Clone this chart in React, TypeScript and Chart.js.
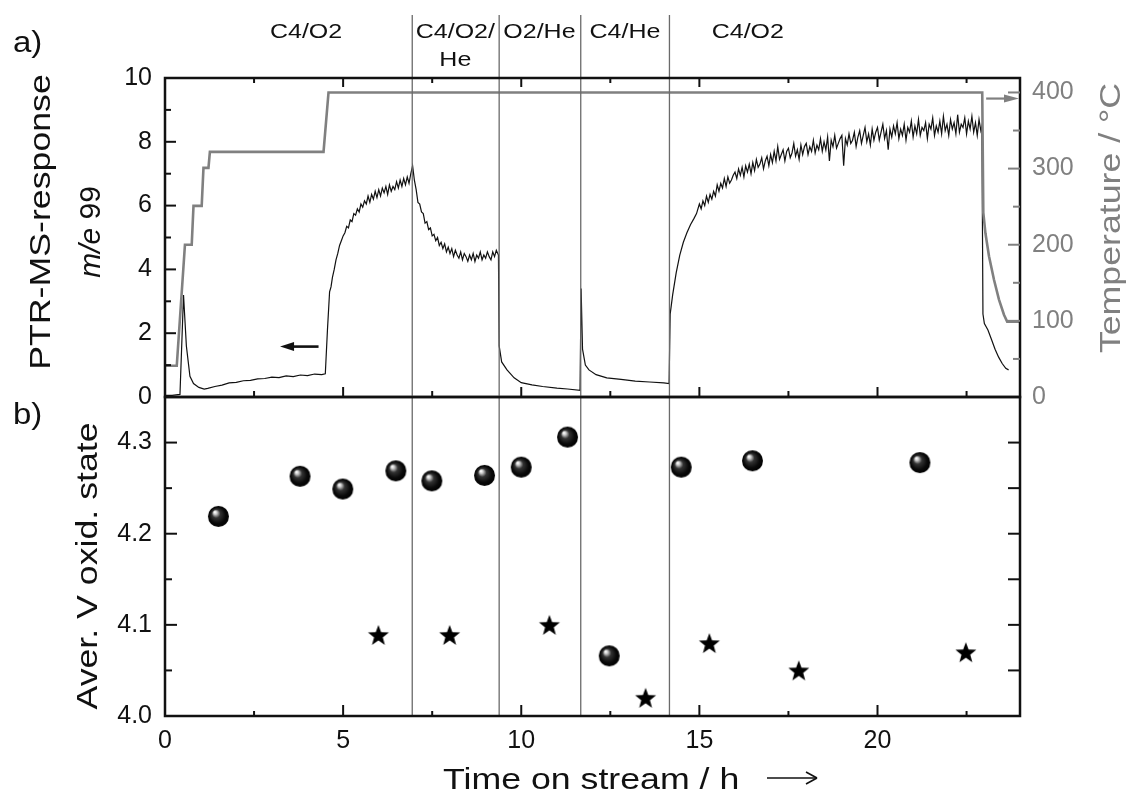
import React, { useEffect, useRef } from 'react';
import { Chart, registerables } from 'chart.js';

Chart.register(...registerables);

// ---------------- data ----------------
const ptrTime = [
  // C4/O2 start-up
  0.0, 0.2, 0.42, 0.52, 0.6, 0.7, 0.8, 0.95, 1.1, 1.2, 1.4, 1.6, 1.8, 2.0, 2.2, 2.4, 2.6, 2.8, 3.0, 3.2, 3.4, 3.6, 3.8, 4.0, 4.2, 4.4, 4.5, 4.56,
  4.62, 4.66, 4.7, 4.75, 4.8, 4.85, 4.9, 4.95, 5.0, 5.05, 5.1, 5.15, 5.2, 5.25, 5.3, 5.35, 5.4, 5.45, 5.5, 5.55,
  5.6, 5.65, 5.7, 5.75, 5.8, 5.85, 5.9, 5.95, 6.0, 6.05, 6.1, 6.15, 6.2, 6.25, 6.3, 6.35, 6.4, 6.45, 6.5, 6.55,
  6.6, 6.65, 6.7, 6.75, 6.8, 6.85, 6.9, 6.95,
  // C4/O2/He
  7.0, 7.05, 7.1, 7.15, 7.2, 7.25, 7.3, 7.35, 7.4, 7.45, 7.5, 7.55, 7.6, 7.65, 7.7, 7.75, 7.8, 7.85, 7.9, 7.95,
  8.0, 8.05, 8.1, 8.15, 8.2, 8.25, 8.3, 8.35, 8.4, 8.45, 8.5, 8.55, 8.6, 8.65, 8.7, 8.75, 8.8, 8.85, 8.9, 8.95,
  9.0, 9.05, 9.1, 9.15, 9.2, 9.25, 9.3, 9.36,
  // O2/He
  9.38, 9.45, 9.6, 9.8, 10.0, 10.3, 10.6, 11.0, 11.3, 11.65,
  // C4/He
  11.68, 11.72, 11.8, 11.9, 12.1, 12.4, 12.8, 13.2, 13.6, 14.0, 14.15,
  // C4/O2
  14.18, 14.25, 14.35, 14.45, 14.55, 14.65, 14.75, 14.85, 14.92,
  15.0, 15.05, 15.1, 15.15, 15.2, 15.25, 15.3, 15.35, 15.4, 15.45,
  15.5, 15.55, 15.6, 15.65, 15.7, 15.75, 15.8, 15.85, 15.9, 15.95,
  16.0, 16.05, 16.1, 16.15, 16.2, 16.25, 16.3, 16.35, 16.4, 16.45,
  16.5, 16.55, 16.6, 16.65, 16.7, 16.75, 16.8, 16.85, 16.9, 16.95,
  17.0, 17.05, 17.1, 17.15, 17.2, 17.25, 17.3, 17.35, 17.4, 17.45,
  17.5, 17.55, 17.6, 17.65, 17.7, 17.75, 17.8, 17.85, 17.9, 17.95,
  18.0, 18.05, 18.1, 18.15, 18.2, 18.25, 18.3, 18.35, 18.4, 18.45,
  18.5, 18.55, 18.6, 18.65, 18.7, 18.75, 18.8, 18.85, 18.9, 18.95,
  19.0, 19.05, 19.1, 19.15, 19.2, 19.25, 19.3, 19.35, 19.4, 19.45,
  19.5, 19.55, 19.6, 19.65, 19.7, 19.75, 19.8, 19.85, 19.9, 19.95,
  20.0, 20.05, 20.1, 20.15, 20.2, 20.25, 20.3, 20.35, 20.4, 20.45,
  20.5, 20.55, 20.6, 20.65, 20.7, 20.75, 20.8, 20.85, 20.9, 20.95,
  21.0, 21.05, 21.1, 21.15, 21.2, 21.25, 21.3, 21.35, 21.4, 21.45,
  21.5, 21.55, 21.6, 21.65, 21.7, 21.75, 21.8, 21.85, 21.9, 21.95,
  22.0, 22.05, 22.1, 22.15, 22.2, 22.25, 22.3, 22.35, 22.4, 22.45,
  22.5, 22.55, 22.6, 22.65, 22.7, 22.75, 22.8, 22.85, 22.9, 22.93,
  // cool-down
  22.96, 23.0, 23.1, 23.2, 23.3, 23.4, 23.5, 23.6, 23.68,
];
const ptrValue = [
  0.05, 0.05, 0.08, 3.2, 1.6, 0.65, 0.42, 0.3, 0.25, 0.27, 0.33, 0.37, 0.44, 0.46, 0.51, 0.52, 0.57, 0.58, 0.62, 0.61, 0.66, 0.64, 0.69, 0.67, 0.72, 0.7, 0.73, 2.1,
  3.3, 3.45, 3.75, 4.0, 4.3, 4.5, 4.75, 4.9, 5.05, 5.15, 5.35, 5.3, 5.55, 5.5, 5.75, 5.7, 5.9, 5.8, 6.05, 5.95,
  6.15, 6.05, 6.3, 6.1, 6.35, 6.2, 6.45, 6.25, 6.5, 6.3, 6.55, 6.4, 6.6, 6.35, 6.65, 6.45, 6.6, 6.5, 6.75, 6.55,
  6.8, 6.6, 6.85, 6.65, 6.9, 6.7, 7.0, 7.25,
  6.8, 6.5, 6.1, 6.05, 5.8, 5.75, 5.45, 5.5, 5.25, 5.3, 5.05, 5.1, 4.9, 5.0, 4.75, 4.85, 4.65, 4.8, 4.55, 4.7,
  4.5, 4.65, 4.4, 4.6, 4.45, 4.35, 4.55, 4.3, 4.5, 4.4, 4.25, 4.45, 4.3, 4.5, 4.25, 4.45, 4.35, 4.55, 4.3, 4.45,
  4.35, 4.55, 4.4, 4.3, 4.55, 4.4, 4.6, 4.45,
  1.6, 1.1, 0.85, 0.6, 0.45, 0.38, 0.33, 0.28, 0.25, 0.21,
  3.4, 1.5, 1.0, 0.85, 0.7, 0.6, 0.55, 0.5, 0.47, 0.44, 0.42,
  2.6, 3.2, 3.9, 4.45, 4.85, 5.15, 5.4, 5.6, 5.75,
  6.05, 5.9, 6.15, 6.0, 6.3, 6.1, 6.35, 6.2, 6.45, 6.3,
  6.65, 6.45, 6.7, 6.55, 6.85, 6.6, 6.9, 6.7, 6.8, 6.95,
  7.05, 6.85, 7.15, 6.95, 7.2, 6.9, 7.25, 7.05, 7.3, 7.0,
  7.35, 7.1, 7.45, 7.2, 7.3, 7.5, 7.15, 7.4, 7.55, 7.25,
  7.6, 7.35, 7.7, 7.4, 7.85, 7.45, 7.6, 7.75, 7.4, 7.7,
  7.8, 7.5, 7.65, 7.95, 7.55, 7.75, 7.45, 7.9, 7.6, 7.85,
  7.95, 7.6, 7.85, 7.7, 8.05, 7.65, 7.9, 7.75, 8.1, 7.7,
  8.0, 7.75, 8.15, 7.4, 8.05, 7.85, 8.2, 7.8, 7.95, 8.1,
  8.2, 7.25, 8.1, 7.9, 8.25, 7.95, 8.05, 8.3, 7.85, 8.15,
  8.35, 7.95, 8.2, 8.45, 8.0, 8.25, 7.9, 8.4, 8.05, 8.3,
  8.45, 8.05, 8.3, 8.55, 8.1, 8.35, 7.75, 8.4, 8.15, 8.5,
  8.25, 8.6, 8.1, 8.4, 8.2, 8.55, 8.05, 8.45, 8.3, 8.65,
  8.15, 8.5, 8.25, 8.7, 8.2, 8.45, 8.35, 8.6, 8.1, 8.55,
  8.4, 8.75, 8.2, 8.5, 8.3, 8.65, 8.25, 8.8, 8.35, 8.55,
  8.2, 8.7, 8.4, 8.6, 8.25, 8.85, 8.3, 8.55, 8.45, 8.75,
  8.25, 8.65, 8.4, 8.8, 8.3, 8.6, 8.2, 8.7, 8.35, 8.5,
  2.6, 2.3, 2.1, 1.8, 1.5, 1.25, 1.05, 0.9, 0.85,
];
const tempTime = [0, 0.33, 0.56, 0.75, 0.8, 1.03, 1.08, 1.22, 1.26, 4.45, 4.59, 22.94, 22.97, 23.03, 23.13, 23.27, 23.41, 23.55, 23.64, 24.0];
const tempValue = [41, 41, 200, 200, 251, 251, 301, 301, 322, 322, 400, 400, 242, 215, 185, 154, 128, 108, 99, 99];

const sphereTime = [1.5, 3.79, 4.99, 6.48, 7.49, 8.97, 10.0, 11.3, 12.47, 14.49, 16.49, 21.19];
const sphereValue = [4.219, 4.263, 4.249, 4.269, 4.258, 4.264, 4.273, 4.306, 4.066, 4.273, 4.28, 4.278];
const starTime = [5.99, 7.99, 10.79, 13.49, 15.28, 17.79, 22.48];
const starValue = [4.089, 4.089, 4.1, 4.02, 4.08, 4.05, 4.07];

const phaseBoundaries = [6.94, 9.38, 11.67, 14.16];
const phaseNames = ['C4/O2', 'C4/O2/|He', 'O2/He', 'C4/He', 'C4/O2'];
const phaseCenters = [3.96, 8.15, 10.51, 12.91, 16.36];

const xTickLabels = [0, 5, 10, 15, 20];
const ptrTickLabels = [0, 2, 4, 6, 8, 10];
const tempTickLabels = [0, 100, 200, 300, 400];
const oxTickLabels = [4.0, 4.1, 4.2, 4.3];

// ---------------- styling ----------------
const W = 1127;
const H = 794;
const FONT = "'Liberation Sans', Arial, Helvetica, sans-serif";
const INK = '#111111';
const GRAY = '#808080';
const PHASE = '#6a6a6a';

Chart.defaults.font.family = FONT;

type TextOpts = {
  size: number;
  rotate?: number;
  stretch?: number;
  align?: CanvasTextAlign;
  color?: string;
  italic?: boolean;
};

function drawText(ctx: CanvasRenderingContext2D, text: string, x: number, y: number, o: TextOpts) {
  ctx.save();
  ctx.translate(x, y);
  ctx.rotate(o.rotate || 0);
  ctx.scale(o.stretch || 1, 1);
  ctx.font = `${o.italic ? 'italic ' : ''}${o.size}px ${FONT}`;
  ctx.fillStyle = o.color || INK;
  ctx.textAlign = o.align || 'center';
  ctx.textBaseline = 'alphabetic';
  ctx.fillText(text, 0, 0);
  ctx.restore();
}

function seg(ctx: CanvasRenderingContext2D, x1: number, y1: number, x2: number, y2: number) {
  ctx.beginPath();
  ctx.moveTo(x1, y1);
  ctx.lineTo(x2, y2);
  ctx.stroke();
}

function makeSphere(r: number) {
  const c = document.createElement('canvas');
  const s = Math.ceil(r * 2 + 2);
  c.width = s;
  c.height = s;
  const g = c.getContext('2d')!;
  const cx = s / 2;
  const cy = s / 2;
  const grad = g.createRadialGradient(cx - r * 0.35, cy - r * 0.42, r * 0.04, cx, cy, r);
  grad.addColorStop(0, '#ffffff');
  grad.addColorStop(0.14, '#c8c8c8');
  grad.addColorStop(0.38, '#333333');
  grad.addColorStop(0.75, '#0a0a0a');
  grad.addColorStop(1, '#000000');
  g.fillStyle = grad;
  g.beginPath();
  g.arc(cx, cy, r, 0, Math.PI * 2);
  g.fill();
  return c;
}

function makeStar(R: number, rIn: number) {
  const c = document.createElement('canvas');
  const s = Math.ceil(R * 2 + 2);
  c.width = s;
  c.height = s;
  const g = c.getContext('2d')!;
  const cx = s / 2;
  const cy = s / 2 + 1;
  g.fillStyle = '#000';
  g.beginPath();
  for (let i = 0; i < 10; i++) {
    const rad = i % 2 === 0 ? R : rIn;
    const a = -Math.PI / 2 + (i * Math.PI) / 5;
    const px = cx + rad * Math.cos(a);
    const py = cy + rad * Math.sin(a);
    if (i === 0) g.moveTo(px, py);
    else g.lineTo(px, py);
  }
  g.closePath();
  g.fill();
  return c;
}

function yAxis(position: 'left' | 'right', min: number, max: number, labels: number[], width: number, color: string, fmt: (v: number) => string) {
  return {
    type: 'linear' as const,
    position,
    min,
    max,
    grid: { display: false, drawTicks: false },
    border: { display: false },
    ticks: {
      color,
      font: { family: FONT, size: 25 },
      padding: position === 'left' ? 13 : 12,
      callback: (v: any) => fmt(Number(v)),
    },
    afterBuildTicks: (s: any) => {
      s.ticks = labels.map((v) => ({ value: v }));
    },
    afterFit: (s: any) => {
      s.width = width;
    },
  };
}

const topDecor = {
  id: 'topDecor',
  afterDraw(chart: any) {
    const { ctx, chartArea: a, scales } = chart;
    const x = scales.x;
    const y = scales.y;
    const yT = scales.yT;
    ctx.save();
    ctx.lineCap = 'butt';

    // phase boundary lines
    ctx.strokeStyle = PHASE;
    ctx.lineWidth = 1.3;
    phaseBoundaries.forEach((t) => {
      const px = x.getPixelForValue(t);
      seg(ctx, px, 15, px, a.bottom);
    });

    // frame
    ctx.strokeStyle = INK;
    ctx.lineWidth = 2.5;
    ctx.strokeRect(a.left, a.top, a.right - a.left, a.bottom - a.top);

    // x ticks (top and bottom, inward)
    ctx.lineWidth = 2;
    for (let k = 1; k * 2.5 < 24; k++) {
      const px = x.getPixelForValue(k * 2.5);
      const major = k % 2 === 0;
      seg(ctx, px, a.top, px, a.top + (major ? 9 : 5));
      seg(ctx, px, a.bottom, px, a.bottom - (major ? 10 : 6));
    }
    // left y ticks
    for (let v = 1; v < 10; v++) {
      const py = y.getPixelForValue(v);
      seg(ctx, a.left, py, a.left + (v % 2 === 0 ? 11 : 6), py);
    }
    // right temperature ticks
    ctx.strokeStyle = GRAY;
    for (let v = 50; v <= 400; v += 50) {
      const py = yT.getPixelForValue(v);
      seg(ctx, a.right, py, a.right - (v % 100 === 0 ? 12 : 7), py);
    }

    // left arrow (points to PTR axis)
    ctx.strokeStyle = INK;
    ctx.fillStyle = INK;
    ctx.lineWidth = 2.6;
    const ay = y.getPixelForValue(1.58);
    const ax1 = x.getPixelForValue(3.23);
    const ax2 = x.getPixelForValue(4.31);
    seg(ctx, ax1 + 10, ay, ax2, ay);
    ctx.beginPath();
    ctx.moveTo(ax1, ay);
    ctx.lineTo(ax1 + 14, ay - 4.5);
    ctx.lineTo(ax1 + 14, ay + 4.5);
    ctx.closePath();
    ctx.fill();

    // right arrow (points to temperature axis)
    ctx.strokeStyle = GRAY;
    ctx.fillStyle = GRAY;
    ctx.lineWidth = 2.2;
    const ry = yT.getPixelForValue(392);
    const rx1 = x.getPixelForValue(23.05);
    seg(ctx, rx1, ry, a.right - 10, ry);
    ctx.beginPath();
    ctx.moveTo(a.right - 1, ry);
    ctx.lineTo(a.right - 16, ry - 4);
    ctx.lineTo(a.right - 16, ry + 4);
    ctx.closePath();
    ctx.fill();

    // phase labels
    phaseNames.forEach((name, i) => {
      const px = x.getPixelForValue(phaseCenters[i]);
      name.split('|').forEach((line, j) => {
        drawText(ctx, line, px, 38 + j * 28, { size: 20, stretch: 1.25 });
      });
    });

    // panel letter
    drawText(ctx, 'a)', 13, 52, { size: 30, align: 'left', stretch: 1.1 });

    // axis titles
    drawText(ctx, 'PTR-MS-response', 50, 222, { size: 30, rotate: -Math.PI / 2, stretch: 1.19 });
    ctx.save();
    ctx.translate(100, 232);
    ctx.rotate(-Math.PI / 2);
    ctx.fillStyle = INK;
    ctx.textBaseline = 'alphabetic';
    ctx.textAlign = 'left';
    ctx.font = `italic 30px ${FONT}`;
    const w1 = ctx.measureText('m/e').width;
    ctx.font = `30px ${FONT}`;
    const w2 = ctx.measureText(' 99').width;
    const start = -(w1 + w2) / 2;
    ctx.font = `italic 30px ${FONT}`;
    ctx.fillText('m/e', start, 0);
    ctx.font = `30px ${FONT}`;
    ctx.fillText(' 99', start + w1, 0);
    ctx.restore();

    drawText(ctx, 'Temperature / °C', 1120, 218, { size: 30, rotate: -Math.PI / 2, stretch: 1.19, color: GRAY });
    ctx.restore();
  },
};

const bottomDecor = {
  id: 'bottomDecor',
  afterDraw(chart: any) {
    const { ctx, chartArea: a, scales } = chart;
    const x = scales.x;
    const y = scales.y;
    ctx.save();

    ctx.strokeStyle = PHASE;
    ctx.lineWidth = 1.3;
    phaseBoundaries.forEach((t) => {
      const px = x.getPixelForValue(t);
      seg(ctx, px, a.top, px, a.bottom);
    });

    ctx.strokeStyle = INK;
    ctx.lineWidth = 2.5;
    ctx.strokeRect(a.left, a.top, a.right - a.left, a.bottom - a.top);

    ctx.lineWidth = 2;
    for (let k = 1; k * 2.5 < 24; k++) {
      const px = x.getPixelForValue(k * 2.5);
      const major = k % 2 === 0;
      seg(ctx, px, a.bottom, px, a.bottom - (major ? 11 : 5));
    }
    for (let k = 1; k <= 6; k++) {
      const py = y.getPixelForValue(4 + k * 0.05);
      seg(ctx, a.left, py, a.left + (k % 2 === 0 ? 12 : 7), py);
      seg(ctx, a.right, py, a.right - 12, py);
    }

    drawText(ctx, 'b)', 13, 424, { size: 30, align: 'left', stretch: 1.1 });
    drawText(ctx, 'Aver. V oxid. state', 97, 566, { size: 30, rotate: -Math.PI / 2, stretch: 1.19 });
    drawText(ctx, 'Time on stream / h', 443, 789, { size: 30, align: 'left', stretch: 1.19 });

    // long arrow after the x title
    ctx.strokeStyle = INK;
    ctx.lineWidth = 1.6;
    const ay = 778;
    seg(ctx, 767, ay, 817, ay);
    seg(ctx, 817, ay, 806, ay - 6);
    seg(ctx, 817, ay, 806, ay + 6);
    ctx.restore();
  },
};

export default function App() {
  const topRef = useRef<HTMLCanvasElement>(null);
  const botRef = useRef<HTMLCanvasElement>(null);

  useEffect(() => {
    const sphere = makeSphere(10.5);
    const star = makeStar(11, 4.6);

    const top = new Chart(topRef.current!, {
      type: 'scatter',
      data: {
        datasets: [
          {
            label: 'Temperature',
            data: tempTime.map((t, i) => ({ x: t, y: tempValue[i] })),
            yAxisID: 'yT',
            showLine: true,
            borderColor: GRAY,
            borderWidth: 2.6,
            pointRadius: 0,
            tension: 0,
          },
          {
            label: 'PTR-MS m/e 99',
            data: ptrTime.map((t, i) => ({ x: t, y: ptrValue[i] })),
            yAxisID: 'y',
            showLine: true,
            borderColor: INK,
            borderWidth: 1.2,
            pointRadius: 0,
            tension: 0,
          },
        ],
      },
      options: {
        responsive: false,
        animation: false,
        events: [],
        layout: { padding: { top: 78, bottom: 397, left: 0, right: 0 } },
        plugins: { legend: { display: false }, tooltip: { enabled: false } },
        scales: {
          x: { type: 'linear', min: 0, max: 24, display: false },
          y: yAxis('left', 0, 10, ptrTickLabels, 165, INK, (v) => String(v)),
          yT: yAxis('right', 0, 419, tempTickLabels, 107, GRAY, (v) => String(v)),
        },
      } as any,
      plugins: [topDecor],
    });

    const bottom = new Chart(botRef.current!, {
      type: 'scatter',
      data: {
        datasets: [
          {
            label: 'spheres',
            data: sphereTime.map((t, i) => ({ x: t, y: sphereValue[i] })),
            pointStyle: sphere as any,
            pointRadius: 11,
          },
          {
            label: 'stars',
            data: starTime.map((t, i) => ({ x: t, y: starValue[i] })),
            pointStyle: star as any,
            pointRadius: 11,
          },
        ],
      },
      options: {
        responsive: false,
        animation: false,
        events: [],
        layout: { padding: { top: 397, bottom: 0, left: 0, right: 107 } },
        plugins: { legend: { display: false }, tooltip: { enabled: false } },
        scales: {
          x: {
            type: 'linear',
            min: 0,
            max: 24,
            grid: { display: false, drawTicks: false },
            border: { display: false },
            ticks: {
              color: INK,
              font: { family: FONT, size: 25 },
              padding: 10,
              maxRotation: 0,
              autoSkip: false,
              callback: (v: any) => String(v),
            },
            afterBuildTicks: (s: any) => {
              s.ticks = xTickLabels.map((v) => ({ value: v }));
            },
            afterFit: (s: any) => {
              s.height = 78;
            },
          },
          y: yAxis('left', 4.0, 4.35, oxTickLabels, 165, INK, (v) => v.toFixed(1)),
        },
      } as any,
      plugins: [bottomDecor],
    });

    return () => {
      top.destroy();
      bottom.destroy();
    };
  }, []);

  return (
    <div style={{ position: 'absolute', left: 0, top: 0, width: W, height: H, background: '#fff' }}>
      <canvas ref={botRef} width={W} height={H} style={{ position: 'absolute', left: 0, top: 0 }} />
      <canvas ref={topRef} width={W} height={H} style={{ position: 'absolute', left: 0, top: 0 }} />
    </div>
  );
}
